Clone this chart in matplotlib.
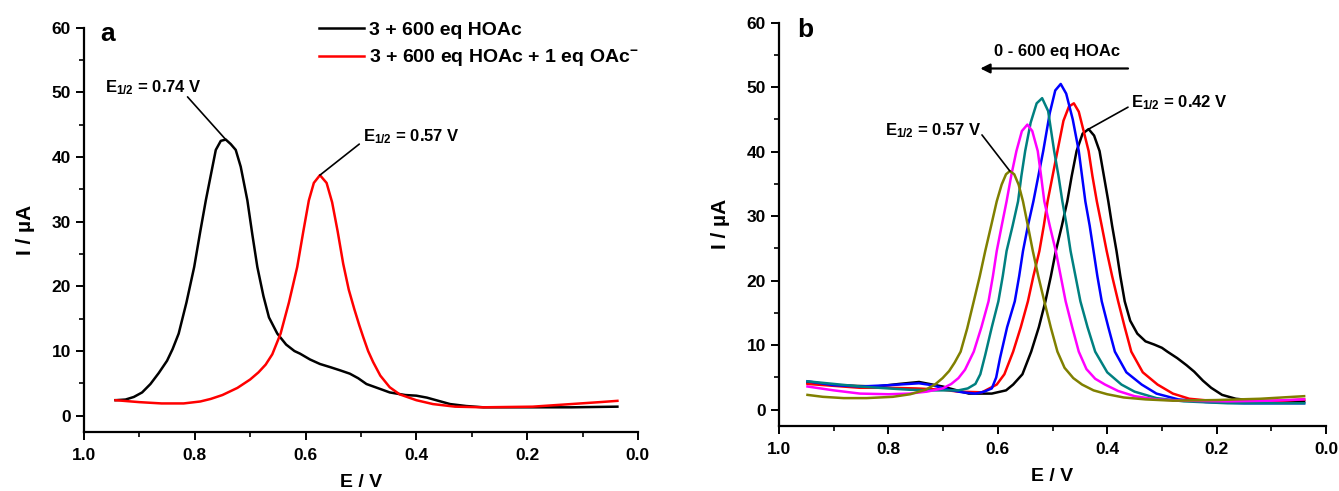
import matplotlib
matplotlib.use("Agg")
import matplotlib.pyplot as plt
from matplotlib.ticker import MultipleLocator, FormatStrFormatter

plt.rcParams["font.family"] = ["Liberation Sans", "DejaVu Sans"]
plt.rcParams["font.weight"] = "bold"
plt.rcParams["mathtext.fontset"] = "custom"
plt.rcParams["mathtext.rm"] = "Liberation Sans:bold"
plt.rcParams["mathtext.bf"] = "Liberation Sans:bold"
plt.rcParams["mathtext.it"] = "Liberation Sans:bold"
plt.rcParams["mathtext.default"] = "bf"

# ---- panel a data ----
a_black_E = [0.943, 0.925, 0.91, 0.895, 0.88, 0.865, 0.85, 0.84, 0.829, 0.815,
             0.801, 0.79, 0.78, 0.768, 0.762, 0.753, 0.744, 0.735, 0.726, 0.717,
             0.705, 0.696, 0.687, 0.676, 0.666, 0.651, 0.635, 0.62, 0.61, 0.592,
             0.574, 0.555, 0.537, 0.52, 0.505, 0.49, 0.464, 0.448, 0.42, 0.40,
             0.381, 0.36, 0.339, 0.31, 0.279, 0.2, 0.12, 0.037]
a_black_I = [2.4, 2.5, 2.9, 3.6, 4.9, 6.6, 8.5, 10.3, 12.7, 17.5,
             23.0, 28.5, 33.3, 38.5, 41.1, 42.5, 42.7, 42.0, 41.1, 38.5,
             33.3, 28.0, 23.0, 18.5, 15.2, 12.7, 11.0, 10.0, 9.6, 8.7,
             8.0, 7.5, 7.0, 6.5, 5.8, 4.9, 4.1, 3.6, 3.2, 3.1,
             2.8, 2.3, 1.8, 1.5, 1.3, 1.3, 1.3, 1.4]

a_red_E = [0.943, 0.90, 0.86, 0.82, 0.79, 0.771, 0.75, 0.723, 0.70, 0.685,
           0.672, 0.66, 0.645, 0.63, 0.615, 0.604, 0.594, 0.585, 0.574, 0.562,
           0.552, 0.542, 0.532, 0.522, 0.512, 0.503, 0.496, 0.487, 0.478, 0.465,
           0.448, 0.43, 0.40, 0.37, 0.33, 0.28, 0.19, 0.069, 0.037]
a_red_I = [2.4, 2.1, 1.9, 1.9, 2.2, 2.6, 3.2, 4.3, 5.6, 6.7,
           7.9, 9.5, 12.7, 17.5, 23.0, 28.5, 33.3, 36.0, 37.2, 36.0,
           33.0, 28.5, 23.5, 19.5, 16.5, 14.0, 12.2, 10.0, 8.3, 6.2,
           4.4, 3.3, 2.4, 1.8, 1.4, 1.3, 1.4, 2.1, 2.3]

a_labels = ["3 + 600 eq HOAc", "3 + 600 eq HOAc + 1 eq OAc$^{-}$"]

# ---- panel b data (0 -> 600 eq HOAc) ----
b_black_E = [0.948, 0.90, 0.822, 0.78, 0.744, 0.701, 0.653, 0.611, 0.585, 0.572,
             0.555, 0.539, 0.525, 0.513, 0.503, 0.494, 0.483, 0.473, 0.465, 0.456,
             0.445, 0.434, 0.424, 0.414, 0.406, 0.398, 0.391, 0.383, 0.376, 0.368,
             0.358, 0.345, 0.33, 0.314, 0.30, 0.29, 0.272, 0.255, 0.241, 0.225,
             0.21, 0.19, 0.165, 0.13, 0.08, 0.04]
b_black_I = [4.2, 3.8, 3.6, 4.0, 4.3, 3.6, 2.5, 2.5, 3.0, 3.9,
             5.5, 9.0, 12.8, 16.8, 20.7, 24.6, 28.5, 32.3, 36.2, 40.1,
             42.8, 43.5, 42.5, 40.1, 36.2, 32.3, 28.5, 24.6, 20.7, 16.8,
             13.8, 11.8, 10.6, 10.1, 9.6, 9.0, 8.0, 6.9, 5.9, 4.5,
             3.4, 2.3, 1.7, 1.4, 1.3, 1.3]

b_red_E = [0.948, 0.90, 0.852, 0.80, 0.75, 0.70, 0.672, 0.629, 0.602, 0.588,
           0.572, 0.558, 0.545, 0.535, 0.524, 0.516, 0.509, 0.50, 0.491, 0.48,
           0.47, 0.461, 0.452, 0.444, 0.434, 0.427, 0.419, 0.41, 0.401, 0.391,
           0.38, 0.368, 0.356, 0.335, 0.308, 0.28, 0.25, 0.20, 0.14, 0.08,
           0.04]
b_red_I = [4.0, 3.7, 3.4, 3.4, 3.3, 3.1, 2.8, 2.7, 3.9, 5.5,
           9.0, 12.8, 16.8, 20.7, 24.6, 28.5, 32.3, 36.2, 40.1, 44.8,
           47.0, 47.5, 46.2, 43.5, 40.1, 36.2, 32.3, 28.5, 24.6, 20.7,
           16.8, 12.8, 9.0, 5.8, 3.9, 2.5, 1.7, 1.3, 1.3, 1.4,
           1.6]

b_blue_E = [0.948, 0.90, 0.852, 0.80, 0.762, 0.744, 0.72, 0.69, 0.665, 0.641,
            0.625, 0.611, 0.603, 0.596, 0.583, 0.569, 0.561, 0.554, 0.545, 0.535,
            0.526, 0.517, 0.505, 0.495, 0.485, 0.475, 0.463, 0.452, 0.446, 0.44,
            0.432, 0.425, 0.418, 0.41, 0.398, 0.386, 0.365, 0.337, 0.31, 0.27,
            0.22, 0.15, 0.04]
b_blue_I = [4.4, 3.8, 3.6, 3.8, 4.0, 4.1, 3.8, 3.1, 2.7, 2.5,
            2.8, 3.3, 5.0, 8.0, 12.8, 16.8, 20.7, 24.6, 28.5, 32.3,
            36.2, 40.1, 46.0, 49.5, 50.5, 49.0, 45.0, 40.1, 36.2, 32.3,
            28.5, 24.6, 20.7, 16.8, 12.8, 9.0, 5.8, 3.9, 2.5, 1.6,
            1.2, 1.0, 1.0]

b_teal_E = [0.948, 0.90, 0.852, 0.80, 0.762, 0.72, 0.672, 0.655, 0.641, 0.632,
            0.623, 0.611, 0.599, 0.591, 0.584, 0.573, 0.563, 0.557, 0.55, 0.54,
            0.529, 0.519, 0.508, 0.497, 0.489, 0.482, 0.474, 0.467, 0.458, 0.449,
            0.436, 0.422, 0.40, 0.374, 0.35, 0.31, 0.26, 0.18, 0.10, 0.04]
b_teal_I = [4.4, 4.0, 3.6, 3.3, 3.1, 3.0, 3.0, 3.3, 4.0, 5.5,
            8.5, 12.8, 16.8, 20.7, 24.6, 28.5, 32.3, 36.2, 40.1, 44.5,
            47.5, 48.3, 46.3, 40.1, 36.2, 32.3, 28.5, 24.6, 20.7, 16.8,
            12.8, 9.0, 5.8, 3.9, 2.8, 1.8, 1.3, 1.0, 1.0, 1.0]

b_magenta_E = [0.948, 0.90, 0.852, 0.80, 0.762, 0.73, 0.701, 0.685, 0.672, 0.66,
               0.644, 0.63, 0.617, 0.609, 0.602, 0.593, 0.584, 0.575, 0.566, 0.556,
               0.546, 0.537, 0.527, 0.521, 0.515, 0.505, 0.494, 0.485, 0.476, 0.464,
               0.452, 0.438, 0.422, 0.404, 0.38, 0.35, 0.31, 0.26, 0.18, 0.10,
               0.04]
b_magenta_I = [3.6, 3.0, 2.5, 2.4, 2.5, 2.8, 3.3, 4.0, 4.9, 6.2,
               9.0, 12.8, 16.8, 20.7, 24.6, 28.5, 32.3, 36.5, 40.1, 43.2,
               44.2, 43.2, 40.1, 36.3, 32.3, 28.5, 24.6, 20.7, 16.8, 12.8,
               9.0, 6.3, 4.8, 3.9, 2.9, 2.1, 1.6, 1.4, 1.3, 1.4,
               1.6]

b_olive_E = [0.948, 0.92, 0.882, 0.84, 0.792, 0.76, 0.732, 0.715, 0.701, 0.689,
             0.679, 0.668, 0.656, 0.644, 0.633, 0.623, 0.612, 0.602, 0.593, 0.585,
             0.578, 0.57, 0.562, 0.554, 0.545, 0.536, 0.526, 0.515, 0.503, 0.491,
             0.478, 0.462, 0.446, 0.425, 0.40, 0.37, 0.33, 0.28, 0.20, 0.12,
             0.04]
b_olive_I = [2.3, 2.0, 1.8, 1.8, 2.0, 2.4, 3.1, 3.9, 4.9, 6.0,
             7.3, 9.0, 12.6, 16.8, 20.7, 24.6, 28.6, 32.3, 34.9, 36.5,
             37.0, 36.5, 34.9, 32.3, 28.5, 24.6, 20.7, 16.8, 12.7, 9.0,
             6.5, 4.9, 3.9, 3.0, 2.4, 1.9, 1.6, 1.4, 1.5, 1.7,
             2.1]

b_curves = [
    (b_black_E, b_black_I, "black"),
    (b_red_E, b_red_I, "#ff0000"),
    (b_blue_E, b_blue_I, "#0000ff"),
    (b_teal_E, b_teal_I, "#008080"),
    (b_magenta_E, b_magenta_I, "#ff00ff"),
    (b_olive_E, b_olive_I, "#808000"),
]

# Figure
fig = plt.figure(figsize=(13.39, 4.91), dpi=100)

axA = fig.add_axes([0.0627, 0.1204, 0.4137, 0.8232])
axB = fig.add_axes([0.5818, 0.1327, 0.4085, 0.8211])


def style_axes(ax):
    ax.set_xlim(1.0, 0.0)
    ax.set_ylim(-2.5, 60)
    ax.spines["top"].set_visible(False)
    ax.spines["right"].set_visible(False)
    ax.spines["left"].set_linewidth(1.6)
    ax.spines["bottom"].set_linewidth(1.6)
    ax.xaxis.set_major_locator(MultipleLocator(0.2))
    ax.xaxis.set_minor_locator(MultipleLocator(0.1))
    ax.xaxis.set_major_formatter(FormatStrFormatter("%.1f"))
    ax.yaxis.set_major_locator(MultipleLocator(10))
    ax.yaxis.set_minor_locator(MultipleLocator(5))
    ax.tick_params(which="major", direction="out", length=6, width=1.4,
                   labelsize=12.5)
    ax.tick_params(axis="x", which="major", pad=5.5)
    ax.tick_params(which="minor", direction="out", length=3.5, width=1.2)
    ax.set_xlabel("E / V", fontsize=14, fontweight="bold", labelpad=8)
    ax.set_ylabel("I / \u00b5A", fontsize=15, fontweight="bold", labelpad=12)


# Panel a
style_axes(axA)
lineA1, = axA.plot(a_black_E, a_black_I, color="black", lw=1.8)
lineA2, = axA.plot(a_red_E, a_red_I, color="#ff0000", lw=1.8)
axA.legend([lineA1, lineA2], a_labels, loc="upper left",
           bbox_to_anchor=(0.425, 1.015), frameon=False, fontsize=14,
           handlelength=2.27, handletextpad=0.3, labelspacing=0.42,
           borderpad=0, borderaxespad=0)
axA.text(0.970, 59.1, "a", fontsize=19, fontweight="bold", va="center")

pk = a_black_I.index(max(a_black_I))
axA.text(0.962, 50.7, "E$_{1/2}$ = 0.74 V", fontsize=12, va="center")
axA.annotate("", xy=(a_black_E[pk], a_black_I[pk]), xytext=(0.813, 49.3),
             arrowprops=dict(arrowstyle="-", lw=1.2, color="black",
                             shrinkA=0, shrinkB=0))
pk = a_red_I.index(max(a_red_I))
axA.text(0.497, 43.2, "E$_{1/2}$ = 0.57 V", fontsize=12, va="center")
axA.annotate("", xy=(a_red_E[pk], a_red_I[pk]), xytext=(0.503, 42.0),
             arrowprops=dict(arrowstyle="-", lw=1.2, color="black",
                             shrinkA=0, shrinkB=0))

# Panel b
style_axes(axB)
for E, I, c in b_curves:
    axB.plot(E, I, color=c, lw=1.8)
axB.text(0.967, 58.8, "b", fontsize=19, fontweight="bold", va="center")

axB.text(0.491, 55.6, "0 - 600 eq HOAc", fontsize=12, ha="center",
         va="center")
axB.annotate("", xy=(0.632, 52.9), xytext=(0.362, 52.9),
             arrowprops=dict(arrowstyle="-|>", lw=1.6, color="black",
                             mutation_scale=14, shrinkA=0, shrinkB=0))

pk = b_black_I.index(max(b_black_I))
axB.text(0.357, 47.6, "E$_{1/2}$ = 0.42 V", fontsize=12, va="center")
axB.annotate("", xy=(b_black_E[pk], b_black_I[pk]), xytext=(0.362, 46.9),
             arrowprops=dict(arrowstyle="-", lw=1.2, color="black",
                             shrinkA=0, shrinkB=0))
pk = b_olive_I.index(max(b_olive_I))
axB.text(0.806, 43.2, "E$_{1/2}$ = 0.57 V", fontsize=12, va="center")
axB.annotate("", xy=(b_olive_E[pk], b_olive_I[pk]), xytext=(0.629, 42.6),
             arrowprops=dict(arrowstyle="-", lw=1.2, color="black",
                             shrinkA=0, shrinkB=0))

fig.savefig("out.png", dpi=100)
